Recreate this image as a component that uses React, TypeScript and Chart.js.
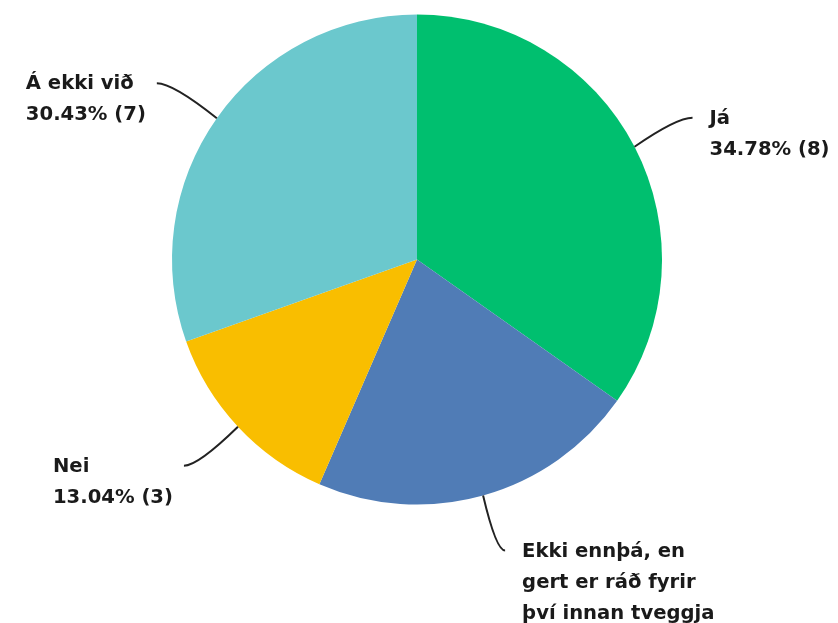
import React, { useEffect, useRef } from "react";
import { Chart, registerables } from "chart.js";
Chart.register(...registerables);

const categories = [
  "Já",
  "Ekki ennþá, en gert er ráð fyrir því innan tveggja ára",
  "Nei",
  "Á ekki við",
];
const counts = [8, 5, 3, 7];
const colors = ["#00BF6F", "#507CB6", "#F9BE00", "#6BC8CD"];
const labelLines = [
  ["Já"],
  ["Ekki ennþá, en", "gert er ráð fyrir", "því innan tveggja", "ára"],
  ["Nei"],
  ["Á ekki við"],
];

// leader layout (offsets from slice outer midpoint)
const leaders = [
  { dx: 58, dy: -29, side: "right", cx: -16, cy: 0 },
  { dx: 22, dy: 55, side: "right", cx: -10, cy: 0 },
  { dx: -54, dy: 39, side: "left", cx: 14, cy: 0 },
  { dx: -60, dy: -35, side: "left", cx: 16, cy: 0 },
];

const FONT = "bold 19.6px 'DejaVu Sans', sans-serif";
const LINE_H = 31;

const labelPlugin = {
  id: "leaderLabels",
  afterDraw(chart: any) {
    const ctx = chart.ctx;
    const meta = chart.getDatasetMeta(0);
    const data = chart.data.datasets[0].data as number[];
    const total = data.reduce((a, b) => a + b, 0);
    ctx.save();
    ctx.font = FONT;
    meta.data.forEach((arc: any, i: number) => {
      const { x, y, startAngle, endAngle, outerRadius } = arc.getProps(
        ["x", "y", "startAngle", "endAngle", "outerRadius"],
        true
      );
      const mid = (startAngle + endAngle) / 2;
      const px = x + Math.cos(mid) * outerRadius;
      const py = y + Math.sin(mid) * outerRadius;
      const L = leaders[i];
      const ex = px + L.dx;
      const ey = py + L.dy;
      let cpx: number, cpy: number;
      if (i === 1) {
        cpx = px + 13;
        cpy = ey;
      } else {
        cpx = ex + L.cx;
        cpy = ey + L.cy;
      }
      ctx.beginPath();
      ctx.moveTo(px, py);
      ctx.quadraticCurveTo(cpx, cpy, ex, ey);
      ctx.strokeStyle = "#222";
      ctx.lineWidth = 2;
      ctx.stroke();

      const v = data[i];
      const lines = [
        ...labelLines[i],
        `${((v / total) * 100).toFixed(2)}% (${v})`,
      ];
      const maxW = Math.max(...lines.map((t) => ctx.measureText(t).width));
      const tx = L.side === "right" ? ex + 17 : ex - 11 - maxW;
      ctx.fillStyle = "#1a1a1a";
      ctx.textAlign = "left";
      ctx.textBaseline = "middle";
      lines.forEach((t, k) => {
        ctx.fillText(t, tx, ey + 1 + k * LINE_H);
      });
    });
    ctx.restore();
  },
};

export default function App() {
  const ref = useRef<HTMLCanvasElement | null>(null);
  useEffect(() => {
    if (!ref.current) return;
    const chart = new Chart(ref.current, {
      type: "pie",
      data: {
        labels: categories,
        datasets: [
          {
            data: counts,
            backgroundColor: colors,
            borderWidth: 0,
          },
        ],
      },
      options: {
        responsive: false,
        animation: false,
        layout: { padding: { left: 172, right: 176, top: 14, bottom: 118 } },
        plugins: {
          legend: { display: false },
          tooltip: { enabled: false },
        },
      },
      plugins: [labelPlugin],
    });
    return () => chart.destroy();
  }, []);
  return (
    <div style={{ position: "absolute", left: 0, top: 0, width: 838, height: 623, background: "#fff" }}>
      <canvas ref={ref} width={838} height={623} />
    </div>
  );
}
